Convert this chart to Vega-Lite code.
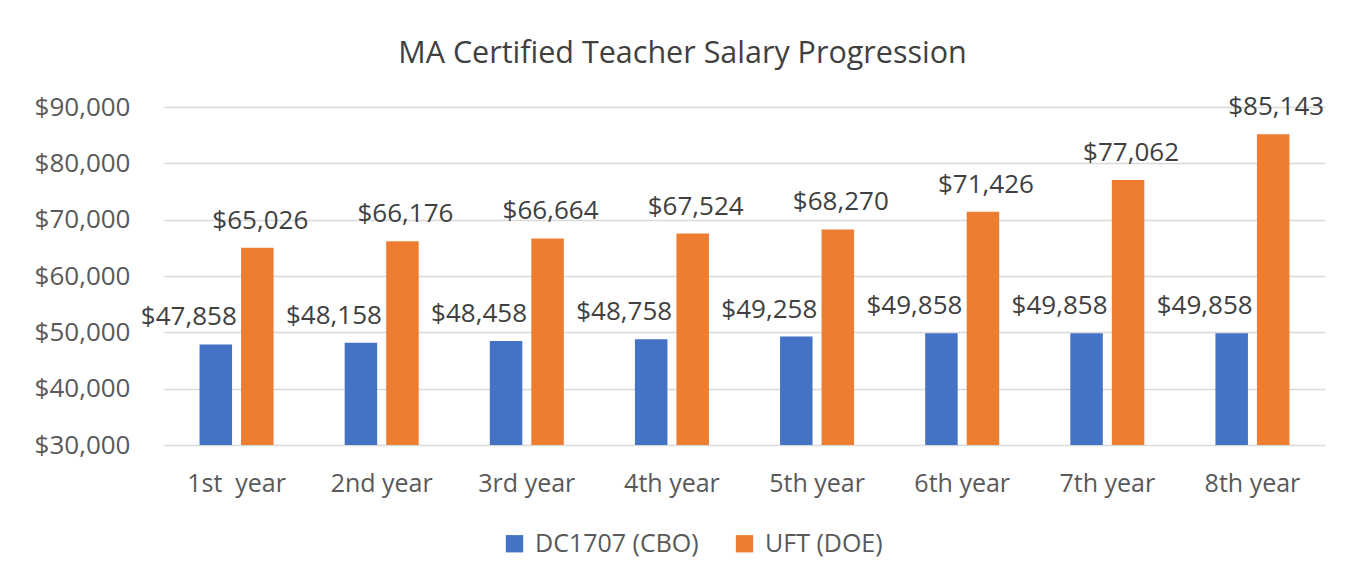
{
  "$schema": "https://vega.github.io/schema/vega-lite/v6.json",
  "width": 1161,
  "height": 338,
  "autosize": {"type": "none"},
  "padding": {"left": 164, "top": 107, "right": 30, "bottom": 133},
  "background": "white",
  "config": {
    "font": "Open Sans",
    "view": {"stroke": null},
    "axis": {"labelColor": "#595959", "labelFont": "Open Sans"}
  },
  "title": {
    "text": "MA Certified Teacher Salary Progression",
    "fontSize": 30.5,
    "fontWeight": "normal",
    "color": "#404040",
    "font": "Open Sans",
    "dx": -62,
    "offset": 25
  },
  "data": {
    "values": [
      {"year": "1st\u00a0 year", "series": "DC1707 (CBO)", "salary": 47858},
      {"year": "1st\u00a0 year", "series": "UFT (DOE)", "salary": 65026},
      {"year": "2nd year", "series": "DC1707 (CBO)", "salary": 48158},
      {"year": "2nd year", "series": "UFT (DOE)", "salary": 66176},
      {"year": "3rd year", "series": "DC1707 (CBO)", "salary": 48458},
      {"year": "3rd year", "series": "UFT (DOE)", "salary": 66664},
      {"year": "4th year", "series": "DC1707 (CBO)", "salary": 48758},
      {"year": "4th year", "series": "UFT (DOE)", "salary": 67524},
      {"year": "5th year", "series": "DC1707 (CBO)", "salary": 49258},
      {"year": "5th year", "series": "UFT (DOE)", "salary": 68270},
      {"year": "6th year", "series": "DC1707 (CBO)", "salary": 49858},
      {"year": "6th year", "series": "UFT (DOE)", "salary": 71426},
      {"year": "7th year", "series": "DC1707 (CBO)", "salary": 49858},
      {"year": "7th year", "series": "UFT (DOE)", "salary": 77062},
      {"year": "8th year", "series": "DC1707 (CBO)", "salary": 49858},
      {"year": "8th year", "series": "UFT (DOE)", "salary": 85143}
    ]
  },
  "encoding": {
    "x": {
      "field": "year",
      "type": "nominal",
      "sort": null,
      "scale": {"paddingInner": 0.49, "paddingOuter": 0.245},
      "axis": {
        "title": null,
        "labelAngle": 0,
        "labelFontSize": 25,
        "labelPadding": 26,
        "ticks": false,
        "domain": false,
        "labelColor": "#595959"
      }
    },
    "xOffset": {
      "field": "series",
      "type": "nominal",
      "scale": {"paddingInner": 0.217, "paddingOuter": 0}
    },
    "y": {
      "field": "salary",
      "type": "quantitative",
      "scale": {"domain": [30000, 90000], "zero": false, "nice": false},
      "axis": {
        "title": null,
        "values": [30000, 40000, 50000, 60000, 70000, 80000, 90000],
        "format": "$,.0f",
        "labelFontSize": 26,
        "labelPadding": 34,
        "ticks": false,
        "domain": false,
        "gridColor": "#d9d9d9",
        "gridWidth": 1.5,
        "labelColor": "#595959"
      }
    }
  },
  "layer": [
    {
      "mark": {"type": "bar"},
      "encoding": {
        "y2": {"datum": 30000},
        "color": {
          "field": "series",
          "type": "nominal",
          "scale": {"domain": ["DC1707 (CBO)", "UFT (DOE)"], "range": ["#4472C4", "#ED7D31"]},
          "legend": {
            "title": null,
            "orient": "none",
            "direction": "horizontal",
            "legendX": 338,
            "legendY": 424,
            "symbolType": "square",
            "symbolSize": 300,
            "symbolStrokeWidth": 0,
            "labelFontSize": 25,
            "labelLimit": 400,
            "labelColor": "#595959",
            "labelOffset": 8,
            "columnPadding": 33
          }
        }
      }
    },
    {
      "transform": [{"filter": "datum.series === 'DC1707 (CBO)'"}],
      "mark": {"type": "text", "fontSize": 26, "color": "#404040", "baseline": "alphabetic", "dy": -19, "dx": -27},
      "encoding": {"text": {"field": "salary", "type": "quantitative", "format": "$,.0f"}}
    },
    {
      "transform": [{"filter": "datum.series === 'UFT (DOE)'"}],
      "mark": {"type": "text", "fontSize": 26, "color": "#404040", "baseline": "alphabetic", "dy": -19, "dx": 3},
      "encoding": {"text": {"field": "salary", "type": "quantitative", "format": "$,.0f"}}
    }
  ]
}
